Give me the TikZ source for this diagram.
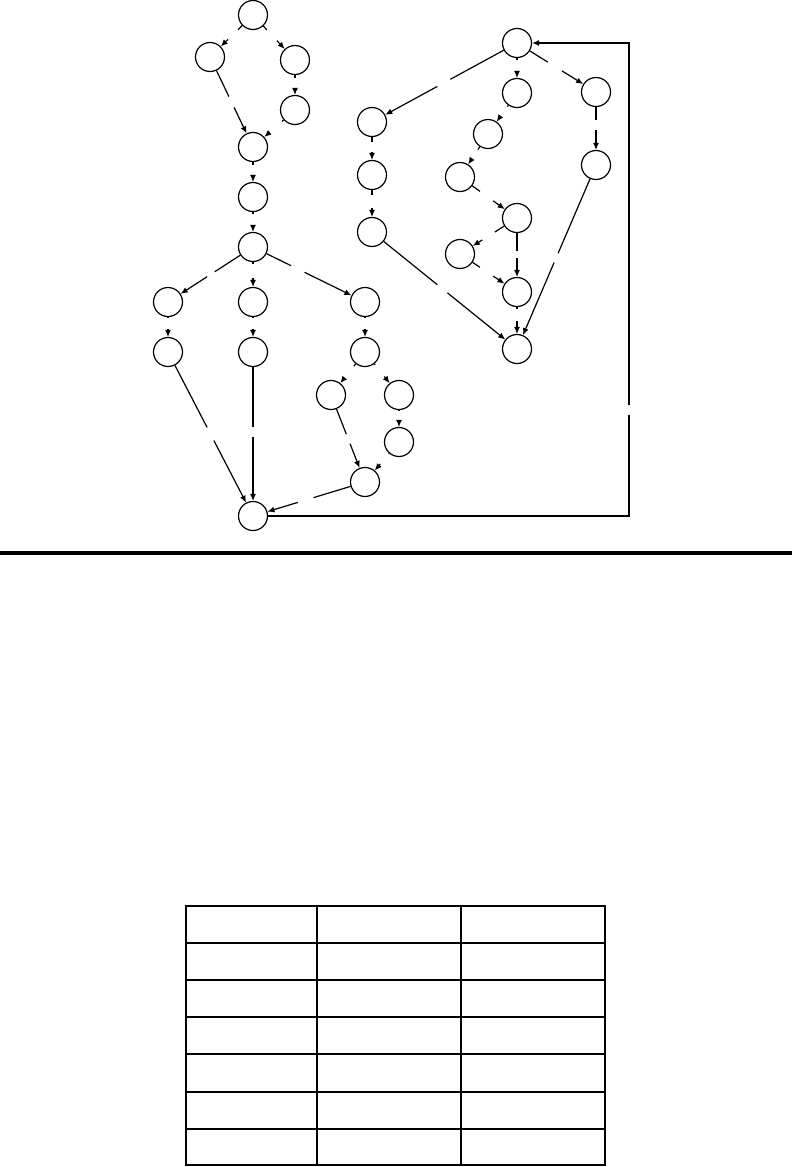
\documentclass[tikz,border=0pt]{standalone}
\usetikzlibrary{arrows.meta,calc}

\begin{document}
\begin{tikzpicture}[x=1pt, y=-1pt, node distance={50pt}, line width=1.2pt, >={Latex[length=7pt,width=6pt]},
    main/.style = {draw, circle, minimum size=29pt, inner sep=0pt},
    back/.style = {line width=1.8pt},
    tab/.style = {line width=1.6pt}]
    \useasboundingbox (0,0) rectangle (792,1167);

    % left graph
    \node[main] (0) at (253,15) {};
    \node[main] (1) at (210,57) {};
    \node[main] (2) at (295,60) {};
    \node[main] (3) [below of=2] {};
    \node[main] (4) at (253,147) {};
    \node[main] (5) [below of=4] {};
    \node[main] (6) [below of=5] {};
    \node[main] (7) at (168,302) {};
    \node[main] (8) at (253,302) {};
    \node[main] (9) at (365,302) {};
    \node[main] (10) [below of=7] {};
    \node[main] (11) [below of=8] {};
    \node[main] (12) [below of=9] {};
    \node[main] (13) at (331,395) {};
    \node[main] (14) at (399,395) {};
    \node[main] (15) at (399,442) {};
    \node[main] (16) at (365,482) {};
    \node[main] (17) at (253,516) {};

    % right graph
    \node[main] (18) at (517,43) {};
    \node[main] (19) at (372,122) {};
    \node[main] (20) at (372,175) {};
    \node[main] (21) at (372,232) {};
    \node[main] (22) [below of=18] {};
    \node[main] (23) at (488,134) {};
    \node[main] (24) at (460,177) {};
    \node[main] (25) at (517,218) {};
    \node[main] (26) at (460,254) {};
    \node[main] (27) at (517,292) {};
    \node[main] (28) at (596,92) {};
    \node[main] (29) at (596,165) {};
    \node[main] (30) at (517,349) {};

    % edges, broken where the labels sit
    \draw[->] (0) -- ($(0)!.35!(1)$) ($(0)!.58!(1)$) -- (1);
    \draw[->] (0) -- ($(0)!.33!(2)$) ($(0)!.57!(2)$) -- (2);
    \draw[->] (2) -- ($(2)!.35!(3)$) ($(2)!.56!(3)$) -- (3);
    \draw[->] (1) -- ($(1)!.44!(4)$) ($(1)!.56!(4)$) -- (4);
    \draw[->] (3) -- ($(3)!.31!(4)$) ($(3)!.6!(4)$) -- (4);
    \draw[->] (4) -- ($(4)!.36!(5)$) ($(4)!.58!(5)$) -- (5);
    \draw[->] (5) -- ($(5)!.33!(6)$) ($(5)!.55!(6)$) -- (6);
    \draw[->] (6) -- ($(6)!.45!(7)$) ($(6)!.54!(7)$) -- (7);
    \draw[->] (6) -- ($(6)!.3!(8)$) ($(6)!.56!(8)$) -- (8);
    \draw[->] (6) -- ($(6)!.34!(9)$) ($(6)!.46!(9)$) -- (9);
    \draw[->] (7) -- ($(7)!.32!(10)$) ($(7)!.54!(10)$) -- (10);
    \draw[->] (8) -- ($(8)!.32!(11)$) ($(8)!.54!(11)$) -- (11);
    \draw[->] (9) -- ($(9)!.32!(12)$) ($(9)!.54!(12)$) -- (12);
    \draw[->] (10) -- ($(10)!.46!(17)$) ($(10)!.54!(17)$) -- (17);
    \draw[->] (11) -- ($(11)!.46!(17)$) ($(11)!.52!(17)$) -- (17);
    \draw[->] (12) -- ($(12)!.33!(13)$) ($(12)!.6!(13)$) -- (13);
    \draw[->] (12) -- ($(12)!.3!(14)$) ($(12)!.57!(14)$) -- (14);
    \draw[->] (14) -- ($(14)!.33!(15)$) ($(14)!.57!(15)$) -- (15);
    \draw[->] (13) -- ($(13)!.45!(16)$) ($(13)!.56!(16)$) -- (16);
    \draw[->] (15) -- ($(15)!.3!(16)$) ($(15)!.55!(16)$) -- (16);
    \draw[->] (16) -- ($(16)!.46!(17)$) ($(16)!.6!(17)$) -- (17);

    \draw[->] (18) -- ($(18)!.46!(19)$) ($(18)!.55!(19)$) -- (19);
    \draw[->] (18) -- ($(18)!.33!(22)$) ($(18)!.55!(22)$) -- (22);
    \draw[->] (18) -- ($(18)!.39!(28)$) ($(18)!.57!(28)$) -- (28);
    \draw[->] (19) -- ($(19)!.38!(20)$) ($(19)!.57!(20)$) -- (20);
    \draw[->] (20) -- ($(20)!.35!(21)$) ($(20)!.58!(21)$) -- (21);
    \draw[->] (21) -- ($(21)!.45!(30)$) ($(21)!.52!(30)$) -- (30);
    \draw[->] (22) -- ($(22)!.33!(23)$) ($(22)!.6!(23)$) -- (23);
    \draw[->] (23) -- ($(23)!.36!(24)$) ($(23)!.62!(24)$) -- (24);
    \draw[->] (24) -- ($(24)!.35!(25)$) ($(24)!.58!(25)$) -- (25);
    \draw[->] (25) -- ($(25)!.39!(26)$) ($(25)!.61!(26)$) -- (26);
    \draw[->] (25) -- ($(25)!.44!(27)$) ($(25)!.54!(27)$) -- (27);
    \draw[->] (26) -- ($(26)!.35!(27)$) ($(26)!.58!(27)$) -- (27);
    \draw[->] (27) -- ($(27)!.3!(30)$) ($(27)!.5!(30)$) -- (30);
    \draw[->] (28) -- ($(28)!.38!(29)$) ($(28)!.52!(29)$) -- (29);
    \draw[->] (29) -- ($(29)!.48!(30)$) ($(29)!.53!(30)$) -- (30);

    % way back to the top
    \coordinate (c1) at (629,516);
    \coordinate (c2) at (629,43);
    \coordinate (g1) at (629,415);
    \coordinate (g2) at (629,405);
    \draw[back] (17) -- (c1) -- (g1);
    \draw[back,->] (g2) -- (c2) -- (18);

    % rule
    \draw[line width=3.5pt] (0,553) -- (792,553);

    % table
    \draw[tab] (186,906) rectangle (605,1165);
    \draw[tab] (317,906) -- (317,1165);
    \draw[tab] (461,906) -- (461,1165);
    \draw[tab] (186,943) -- (605,943);
    \draw[tab] (186,980) -- (605,980);
    \draw[tab] (186,1017) -- (605,1017);
    \draw[tab] (186,1054) -- (605,1054);
    \draw[tab] (186,1092) -- (605,1092);
    \draw[tab] (186,1129) -- (605,1129);
\end{tikzpicture}
\end{document}
